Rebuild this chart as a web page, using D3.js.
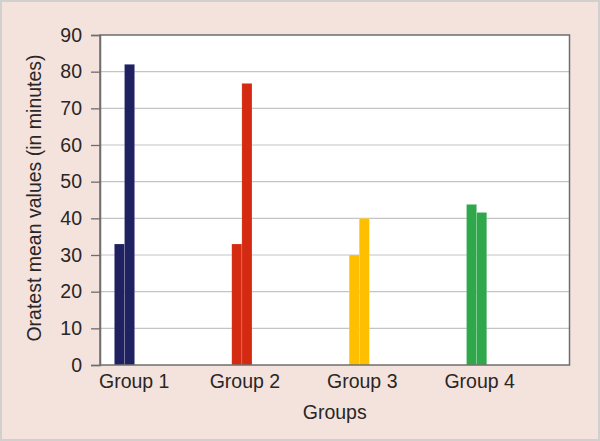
<!DOCTYPE html>
<html>
<head>
  <meta charset="utf-8">
  <title>Oratest mean values</title>
  <script src="https://d3js.org/d3.v7.min.js"></script>
  <style>
    html, body { margin: 0; padding: 0; background: #fff; }
    text { font-family: "Liberation Sans", Arial, sans-serif; fill: #2a2627; }
  </style>
</head>
<body>
<script>
  // data
  var groups = ["Group 1", "Group 2", "Group 3", "Group 4"];
  var seriesNames = ["first", "second"];
  var firstValues = [33, 33, 30, 43.8];
  var secondValues = [82, 76.8, 40, 41.6];
  var groupColors = ["#1f2160", "#d42a12", "#fdbf00", "#2ea84a"];
  var yTicks = [0, 10, 20, 30, 40, 50, 60, 70, 80, 90];

  var W = 600, H = 441;
  var plotL = 100, plotR = 569.5, plotT = 35, plotB = 365;
  var fs = "19.5px";

  var svg = d3.select("body").append("svg")
    .attr("width", W)
    .attr("height", H);

  // pink card with grey edge
  svg.append("rect")
    .attr("x", 1).attr("y", 1)
    .attr("width", W - 2).attr("height", H - 2)
    .attr("fill", "#f3e3dc")
    .attr("stroke", "#d2d0cf")
    .attr("stroke-width", 2);

  svg.append("rect")
    .attr("x", plotL).attr("y", plotT)
    .attr("width", plotR - plotL).attr("height", plotB - plotT)
    .attr("fill", "#fff");

  var y = d3.scaleLinear().domain([0, 90]).range([plotB, plotT]);
  var x0 = d3.scaleBand().domain(groups).range([plotL, plotR]);
  var x1 = d3.scaleBand().domain(seriesNames).range([14.4, 34.6]);

  // gridlines
  svg.append("g")
    .selectAll("line")
    .data(yTicks.filter(function (d) { return d > 0 && d < 90; }))
    .enter().append("line")
    .attr("x1", plotL).attr("x2", plotR)
    .attr("y1", function (d) { return y(d); })
    .attr("y2", function (d) { return y(d); })
    .attr("stroke", "#c4c4c4")
    .attr("stroke-width", 1.2);

  // bars
  var rows = groups.map(function (g, i) {
    return { group: g, color: groupColors[i], vals: [firstValues[i], secondValues[i]] };
  });

  var gBars = svg.append("g").selectAll("g")
    .data(rows)
    .enter().append("g")
    .attr("transform", function (d) { return "translate(" + x0(d.group) + ",0)"; });

  gBars.selectAll("rect")
    .data(function (d) {
      return d.vals.map(function (v, k) { return { name: seriesNames[k], v: v, color: d.color }; });
    })
    .enter().append("rect")
    .attr("x", function (d) { return x1(d.name); })
    .attr("width", x1.bandwidth())
    .attr("y", function (d) { return y(d.v); })
    .attr("height", function (d) { return plotB - y(d.v); })
    .attr("fill", function (d) { return d.color; })
    .attr("stroke", "rgba(255,255,255,0.25)")
    .attr("stroke-width", 0.6);

  // frame
  svg.append("rect")
    .attr("x", plotL).attr("y", plotT)
    .attr("width", plotR - plotL).attr("height", plotB - plotT)
    .attr("fill", "none")
    .attr("stroke", "#6e6e6e")
    .attr("stroke-width", 1.5);

  // y axis
  var yAxis = svg.append("g")
    .attr("transform", "translate(" + plotL + ",0)")
    .call(d3.axisLeft(y).tickValues(yTicks).tickSize(9).tickPadding(9));
  yAxis.select(".domain").attr("stroke", "#6e6e6e").attr("stroke-width", 1.5);
  yAxis.selectAll(".tick line").attr("stroke", "#6e6e6e").attr("stroke-width", 1.3);
  yAxis.selectAll(".tick text")
    .style("font-family", "Liberation Sans, Arial, sans-serif")
    .style("font-size", fs)
    .attr("fill", "#2a2627");

  // x labels, pushed right if they would run past the axis
  svg.append("g").selectAll("text")
    .data(groups)
    .enter().append("text")
    .attr("y", 388)
    .attr("text-anchor", "middle")
    .style("font-size", fs)
    .text(function (d) { return d; })
    .attr("x", function (d) {
      var c = x0(d) + x1.range()[0] + x1.bandwidth() + 3;
      var half = this.getComputedTextLength() / 2;
      return Math.max(c, plotL - 1 + half);
    });

  svg.append("text")
    .attr("x", (plotL + plotR) / 2)
    .attr("y", 419)
    .attr("text-anchor", "middle")
    .style("font-size", fs)
    .text("Groups");

  svg.append("text")
    .attr("transform", "translate(41," + ((plotT + plotB) / 2 - 2) + ") rotate(-90)")
    .attr("text-anchor", "middle")
    .style("font-size", fs)
    .text("Oratest mean values (in minutes)");
</script>
</body>
</html>
